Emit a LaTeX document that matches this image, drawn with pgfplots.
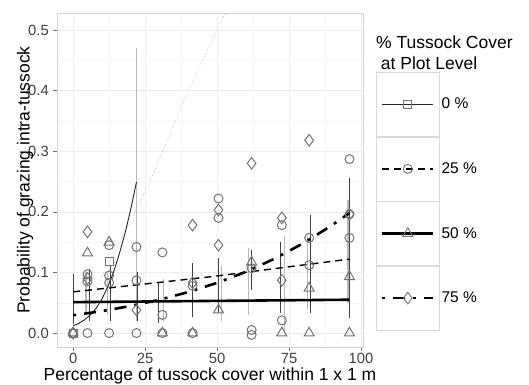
\documentclass[border=0pt]{standalone}
\usepackage{pgfplots}
\pgfplotsset{compat=1.18}
\usepackage{fontspec}
\setmainfont{Liberation Sans}
\definecolor{ptgray}{gray}{0.45}
\pgfplotsset{
  keybox/.style 2 args={legend image code/.code={
    \draw[draw=gray!30, solid, line width=0.6pt, fill=white] (0pt,-32pt) rectangle (63pt,32pt);
    \draw (6pt,0pt) -- (57pt,0pt);
    \draw[solid, ptgray, line width=0.9pt, mark=#1, mark size=#2] plot coordinates {(31.5pt,0pt)};
  }},
}
\begin{document}
\begin{tikzpicture}[x=1pt,y=1pt]
\useasboundingbox (0,0) rectangle (529,384);
\begin{axis}[
  at={(57pt,37pt)}, anchor=south west,
  scale only axis, width=306pt, height=334pt,
  xmin=-5.6, xmax=100.7, ymin=-0.023, ymax=0.528,
  xtick={0,25,50,75,100}, ytick={0,0.1,0.2,0.3,0.4,0.5},
  minor xtick={12.5,37.5,62.5,87.5}, minor ytick={0.05,0.15,0.25,0.35,0.45},
  grid=both,
  major grid style={gray!14, line width=0.6pt},
  minor grid style={gray!7, line width=0.5pt},
  axis line style={gray!35, line width=0.7pt},
  tick align=outside, major tick length=4pt, minor tick length=0pt,
  tick style={black!55, line width=0.6pt},
  xtick pos=bottom, ytick pos=left,
  /pgf/number format/assume math mode=true,
  yticklabel style={/pgf/number format/fixed, /pgf/number format/fixed zerofill, /pgf/number format/precision=1,
    anchor=east, inner sep=0pt, xshift=-4pt},
  xticklabel style={anchor=north, inner sep=0pt, yshift=-2pt},
  tick label style={font=\fontsize{14.8}{17}\selectfont, text=black!75},
  xlabel={Percentage of tussock cover within 1 x 1 m},
  ylabel={Probability of grazing intra-tussock},
  label style={font=\fontsize{17.5}{20}\selectfont, inner sep=0pt},
  xlabel style={at={(axis description cs:0.5,0)}, anchor=base, yshift=-33pt},
  ylabel style={at={(axis description cs:0,0.5)}, anchor=base, yshift=27.5pt},
  legend style={at={(axis description cs:1.0425,0.8234)}, anchor=north west,
    draw=none, fill=none, inner sep=0pt, outer sep=0pt, row sep=0pt,
    font=\fontsize{15.5}{18}\selectfont, nodes={inner sep=2pt}},
  legend cell align=left,
]
% dotted line
\addplot[gray!65, dotted, line width=0.6pt, forget plot] coordinates {
 (-5,-0.052) (0,-0.004) (5,0.044) (12.8,0.12) (20,0.185) (26.7,0.25) (37,0.368) (45,0.45) (52.8,0.528) (56,0.56)};
% gray error bars
\addplot[draw=none, mark=none, forget plot, error bars/.cd, y dir=plus, y explicit, error mark=none,
  error bar style={draw=gray!55, line width=1.2pt}] table[x=x, y=lo, y error plus=d] {
x lo d
4.5 0.03 0.07
12 0.03 0.07
22 0.02 0.45
31.5 0.02 0.07
51.5 0.02 0.09
61 0.03 0.11
73.5 0.0 0.16
81.5 0.04 0.12
95.5 0.05 0.17
};
% dark error bars
\addplot[draw=none, mark=none, forget plot, error bars/.cd, y dir=plus, y explicit, error mark=none,
  error bar style={draw=black!75, line width=0.8pt}] table[x=x, y=lo, y error plus=d] {
x lo d
0 0.015 0.082
5.5 0.02 0.085
13 0.02 0.092
22.5 0.02 0.08
29.5 0.017 0.066
41.5 0.026 0.089
50.5 0.033 0.091
62 0.071 0.066
72 0.033 0.117
82.5 0.033 0.162
96 0.025 0.231
};
% points
\addplot[only marks, mark=o, mark size=4.5pt, ptgray, line width=1pt, forget plot] coordinates {
 (0,0) (5,0.097) (5,0.085) (5,0) (12.5,0.145) (12.5,0.095) (12.5,0.083) (12.5,0)
 (22,0.142) (22,0.087) (22,0) (31,0.133) (31,0.03) (31,0) (41.5,0.078) (41.5,0)
 (50.5,0.222) (50.5,0.19) (62,0.107) (62,0.005) (62,-0.003) (72.5,0.178) (72.5,0.021)
 (82,0.157) (82,0.112) (96,0.287) (96,0.196) (96,0.157)};
\addplot[only marks, mark=triangle, mark size=5.8pt, ptgray, line width=1pt, forget plot] coordinates {
 (0,0) (5,0.132) (12.5,0.15) (31,0) (41.5,0) (50.5,0.038) (62,0.117) (72.5,0) (82,0.074) (82,0) (96,0.093) (96,0)};
\addplot[only marks, mark=diamond, mark size=5.8pt, ptgray, line width=1pt, forget plot] coordinates {
 (0,0) (5,0.167) (5,0.09) (22,0.038) (41.5,0.178) (41.5,0.083) (50.5,0.203) (50.5,0.145)
 (62,0.28) (72.5,0.19) (72.5,0.087) (82,0.318) (96,0.196)};
\addplot[only marks, mark=square, mark size=4pt, ptgray, line width=1pt, forget plot] coordinates {
 (0,0) (12.5,0.118)};
% fitted lines
\addplot[black!85, line width=0.9pt, keybox={square}{4pt}] coordinates {
 (0,0.012) (2,0.016) (4,0.022) (6,0.03) (8,0.041) (10,0.056) (12,0.076)
 (14,0.1) (16,0.13) (18,0.164) (20,0.204) (22,0.249)};
\addlegendentry{0 \%}
\addplot[black, line width=1.4pt, dash pattern=on 7pt off 5pt, keybox={o}{4.5pt}] coordinates {
 (0,0.068) (48,0.093) (96,0.122)};
\addlegendentry{25 \%}
\addplot[black, line width=2.6pt, keybox={triangle}{5.8pt}] coordinates {
 (0,0.051) (96,0.055)};
\addlegendentry{50 \%}
\addplot[black, line width=2.6pt, dash pattern=on 3pt off 8pt on 12pt off 8pt, keybox={diamond}{5.8pt}] coordinates {
 (0,0.0293) (10,0.0362) (20,0.0447) (30,0.055) (40,0.0676) (50,0.0828) (60,0.101)
 (70,0.1227) (80,0.1483) (90,0.1781) (96,0.1981)};
\addlegendentry{75 \%}
\end{axis}
\node[anchor=base west, inner sep=0pt, font=\fontsize{17.5}{21}\selectfont] at (376,335.7) {\% Tussock Cover};
\node[anchor=base west, inner sep=0pt, font=\fontsize{17.5}{21}\selectfont] at (380.7,314.7) {at Plot Level};
\end{tikzpicture}
\end{document}
